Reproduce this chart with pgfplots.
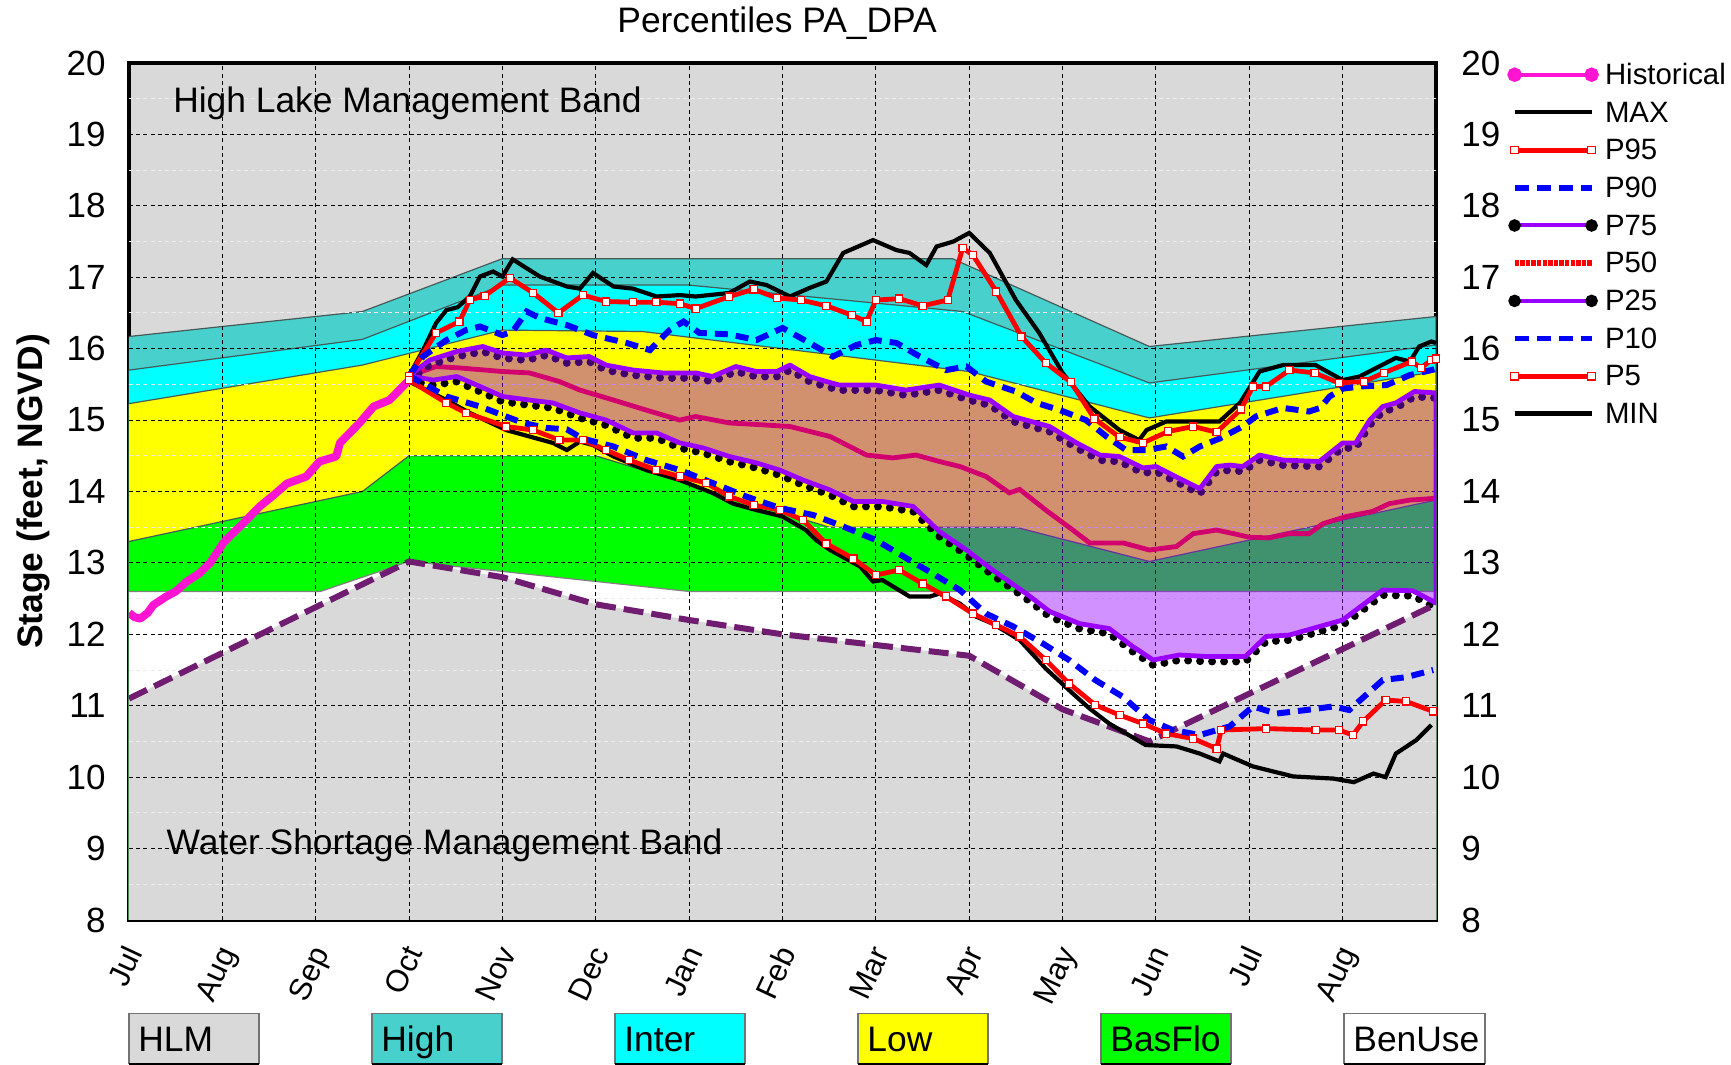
\documentclass[border=0pt]{standalone}
\usepackage{fontspec}
\setmainfont{Liberation Sans}
\usepackage{pgfplots}
\usepackage{pgfplotstable}
\pgfplotsset{compat=1.18}

\definecolor{hlm}{RGB}{217,217,217}
\definecolor{highc}{RGB}{72,209,204}
\definecolor{interc}{RGB}{0,255,255}
\definecolor{lowc}{RGB}{255,255,0}
\definecolor{basc}{RGB}{0,255,0}
\definecolor{vio}{RGB}{153,0,255}
\definecolor{fillv}{RGB}{150,0,255}
\definecolor{histc}{RGB}{255,20,210}
\definecolor{wsl}{RGB}{112,28,112}
\definecolor{bandline}{RGB}{70,90,90}
\definecolor{pblue}{RGB}{0,0,255}
\definecolor{mgrid}{RGB}{236,236,236}

% ---------- zone boundaries (closed down to the axis floor at 8) ----------
\pgfplotstableread{
x y
0 16.17
2.5 16.52
4.0 17.26
8.82 17.26
10.93 16.03
14 16.45
14 8
0 8
}\bHigh
\pgfplotstableread{
x y
0 15.70
2.5 16.13
4.0 16.89
6.0 16.89
8.93 16.52
10.93 15.52
14 16.05
14 8
0 8
}\bInter
\pgfplotstableread{
x y
0 15.23
2.5 15.77
4.0 16.26
5.5 16.24
9.0 15.68
10.93 15.03
14 15.68
14 8
0 8
}\bLow
\pgfplotstableread{
x y
0 13.30
2.5 14.00
3.0 14.50
5.0 14.50
7.5 13.50
9.5 13.50
10.93 13.02
14 13.88
14 8
0 8
}\bBas
\pgfplotstableread{
x y
0 12.60
2.05 12.60
3.0 13.02
6.0 12.60
14 12.60
14 8
0 8
}\bBen
\pgfplotstableread{
x y
0 11.10
3.0 13.02
4.0 12.80
5.0 12.42
6.0 12.20
7.0 12.00
8.0 11.85
9.0 11.70
10.0 10.95
10.93 10.50
14 12.42
14 8
0 8
}\bWSfill
\pgfplotstableread{
x y
0 11.10
3.0 13.02
4.0 12.80
5.0 12.42
6.0 12.20
7.0 12.00
8.0 11.85
9.0 11.70
10.0 10.95
10.93 10.50
14 12.42
}\bWS

% ---------- grid drawn above the zones ----------
\pgfplotstableread{
x y
0 9
14 9
nan nan
0 10
14 10
nan nan
0 11
14 11
nan nan
0 12
14 12
nan nan
0 13
14 13
nan nan
0 14
14 14
nan nan
0 15
14 15
nan nan
0 16
14 16
nan nan
0 17
14 17
nan nan
0 18
14 18
nan nan
0 19
14 19
}\gH
\pgfplotstableread{
x y
0 8.5
14 8.5
nan nan
0 9.5
14 9.5
nan nan
0 10.5
14 10.5
nan nan
0 11.5
14 11.5
nan nan
0 12.5
14 12.5
nan nan
0 13.5
14 13.5
nan nan
0 14.5
14 14.5
nan nan
0 15.5
14 15.5
nan nan
0 16.5
14 16.5
nan nan
0 17.5
14 17.5
nan nan
0 18.5
14 18.5
nan nan
0 19.5
14 19.5
}\gM
\pgfplotstableread{
x y
1 8
1 20
nan nan
2 8
2 20
nan nan
3 8
3 20
nan nan
4 8
4 20
nan nan
5 8
5 20
nan nan
6 8
6 20
nan nan
7 8
7 20
nan nan
8 8
8 20
nan nan
9 8
9 20
nan nan
10 8
10 20
nan nan
11 8
11 20
nan nan
12 8
12 20
nan nan
13 8
13 20
}\gV

% ---------- percentile series ----------
\pgfplotstableread{
x y
3.0 15.62
3.15 15.98
3.29 16.36
3.40 16.54
3.52 16.58
3.65 16.73
3.76 17.01
3.90 17.08
4.00 17.01
4.11 17.25
4.40 17.01
4.69 16.87
4.83 16.84
4.97 17.06
5.19 16.87
5.40 16.84
5.65 16.73
5.90 16.75
6.07 16.73
6.43 16.78
6.65 16.94
6.83 16.89
7.08 16.73
7.29 16.85
7.47 16.94
7.65 17.34
7.97 17.52
8.22 17.38
8.36 17.34
8.54 17.17
8.65 17.43
8.83 17.50
9.00 17.62
9.22 17.34
9.50 16.68
9.75 16.22
10.00 15.66
10.29 15.19
10.61 14.86
10.82 14.72
10.90 14.86
11.11 14.98
11.68 14.98
11.90 15.24
12.11 15.68
12.36 15.77
12.71 15.77
13.00 15.56
13.18 15.61
13.57 15.87
13.72 15.82
13.82 16.03
13.95 16.10
14.00 16.08
}\tMax
\pgfplotstableread{
x y
3.0 15.62
3.29 16.22
3.54 16.38
3.65 16.68
3.81 16.74
4.08 16.99
4.33 16.78
4.60 16.50
4.86 16.75
5.11 16.66
5.40 16.65
5.65 16.65
5.90 16.63
6.07 16.56
6.43 16.73
6.69 16.83
6.94 16.71
7.20 16.68
7.47 16.60
7.74 16.47
7.90 16.38
8.00 16.68
8.25 16.70
8.50 16.60
8.77 16.68
8.93 17.41
9.04 17.31
9.29 16.80
9.56 16.17
9.82 15.80
10.09 15.53
10.34 15.02
10.61 14.76
10.86 14.68
11.13 14.84
11.40 14.91
11.65 14.83
11.91 15.15
12.04 15.47
12.18 15.47
12.43 15.70
12.70 15.66
12.96 15.52
13.23 15.54
13.44 15.66
13.74 15.82
13.84 15.73
13.95 15.84
14.00 15.86
}\tPninetyfive
\pgfplotstableread{
x y
3.0 15.62
3.15 15.89
3.40 16.12
3.61 16.26
3.76 16.31
4.00 16.19
4.11 16.24
4.26 16.52
4.40 16.43
4.69 16.33
4.97 16.19
5.33 16.08
5.58 15.98
5.79 16.26
5.94 16.38
6.11 16.22
6.43 16.20
6.72 16.12
7.00 16.29
7.29 16.08
7.54 15.89
7.79 16.05
8.00 16.12
8.22 16.08
8.47 15.89
8.75 15.70
8.97 15.75
9.18 15.54
9.50 15.40
9.72 15.24
9.97 15.14
10.25 15.00
10.47 14.77
10.68 14.58
10.90 14.58
11.11 14.63
11.29 14.49
11.47 14.63
11.68 14.74
11.93 14.91
12.07 15.05
12.36 15.17
12.64 15.12
12.76 15.17
12.86 15.33
13.00 15.44
13.18 15.47
13.47 15.49
13.72 15.63
13.95 15.70
14.00 15.72
}\tPninety
\pgfplotstableread{
x y
3.0 15.62
3.22 15.84
3.51 15.96
3.79 16.03
4.00 15.94
4.26 15.91
4.47 15.98
4.69 15.87
4.93 15.89
5.11 15.77
5.40 15.70
5.72 15.66
6.07 15.66
6.25 15.61
6.50 15.75
6.72 15.68
6.94 15.68
7.08 15.77
7.29 15.61
7.47 15.54
7.61 15.49
8.00 15.49
8.32 15.42
8.68 15.49
9.00 15.35
9.22 15.28
9.47 15.05
9.86 14.91
10.15 14.68
10.40 14.51
10.61 14.49
10.86 14.33
11.00 14.35
11.18 14.23
11.47 14.04
11.65 14.35
11.79 14.37
11.93 14.35
12.11 14.51
12.36 14.44
12.75 14.42
13.00 14.68
13.14 14.68
13.29 15.00
13.43 15.19
13.57 15.24
13.77 15.40
14.00 15.38
}\tPseventyfive
\pgfplotstableread{
x y
3.0 15.62
3.29 15.75
3.54 15.73
4.00 15.68
4.29 15.66
4.61 15.54
4.83 15.42
5.19 15.28
5.54 15.14
5.90 15.00
6.07 15.05
6.43 14.96
6.70 14.94
7.08 14.91
7.51 14.77
7.90 14.51
8.18 14.47
8.43 14.51
8.68 14.42
8.90 14.35
9.18 14.21
9.43 13.98
9.54 14.03
9.82 13.74
10.11 13.46
10.29 13.28
10.65 13.28
10.93 13.18
11.22 13.23
11.40 13.41
11.65 13.46
11.83 13.41
12.00 13.36
12.21 13.35
12.43 13.41
12.64 13.41
12.79 13.55
13.04 13.65
13.32 13.72
13.50 13.83
13.72 13.88
13.95 13.90
14.00 13.91
}\tPfifty
\pgfplotstableread{
x y
3.0 15.62
3.26 15.56
3.51 15.61
3.76 15.47
4.00 15.33
4.29 15.28
4.54 15.24
4.83 15.10
5.11 15.00
5.40 14.82
5.65 14.82
5.90 14.68
6.15 14.61
6.43 14.49
6.72 14.40
6.97 14.30
7.22 14.16
7.51 14.02
7.76 13.86
8.07 13.86
8.40 13.79
8.68 13.44
8.97 13.18
9.25 12.90
9.61 12.57
9.86 12.32
10.18 12.15
10.50 12.08
10.75 11.83
10.97 11.64
11.25 11.71
11.54 11.69
11.96 11.69
12.18 11.97
12.43 11.99
13.00 12.20
13.43 12.62
13.75 12.61
14.00 12.44
}\tPtwentyfive
% region between P75 (forward) and P25 (backward)
\pgfplotstableread{
x y
3.0 15.62
3.22 15.84
3.51 15.96
3.79 16.03
4.00 15.94
4.26 15.91
4.47 15.98
4.69 15.87
4.93 15.89
5.11 15.77
5.40 15.70
5.72 15.66
6.07 15.66
6.25 15.61
6.50 15.75
6.72 15.68
6.94 15.68
7.08 15.77
7.29 15.61
7.47 15.54
7.61 15.49
8.00 15.49
8.32 15.42
8.68 15.49
9.00 15.35
9.22 15.28
9.47 15.05
9.86 14.91
10.15 14.68
10.40 14.51
10.61 14.49
10.86 14.33
11.00 14.35
11.18 14.23
11.47 14.04
11.65 14.35
11.79 14.37
11.93 14.35
12.11 14.51
12.36 14.44
12.75 14.42
13.00 14.68
13.14 14.68
13.29 15.00
13.43 15.19
13.57 15.24
13.77 15.40
14.00 15.38
14.00 12.44
13.75 12.61
13.43 12.62
13.00 12.20
12.43 11.99
12.18 11.97
11.96 11.69
11.54 11.69
11.25 11.71
10.97 11.64
10.75 11.83
10.50 12.08
10.18 12.15
9.86 12.32
9.61 12.57
9.25 12.90
8.97 13.18
8.68 13.44
8.40 13.79
8.07 13.86
7.76 13.86
7.51 14.02
7.22 14.16
6.97 14.30
6.72 14.40
6.43 14.49
6.15 14.61
5.90 14.68
5.65 14.82
5.40 14.82
5.11 15.00
4.83 15.10
4.54 15.24
4.29 15.28
4.00 15.33
3.76 15.47
3.51 15.61
3.26 15.56
3.0 15.62
}\tBand
\pgfplotstableread{
x y
3.0 15.62
3.40 15.33
3.76 15.19
4.04 15.05
4.22 14.96
4.47 14.89
4.69 14.87
4.86 14.74
5.19 14.63
5.54 14.44
5.90 14.30
6.25 14.12
6.61 13.93
6.97 13.77
7.33 13.67
7.65 13.51
8.00 13.32
8.36 13.04
8.61 12.85
8.90 12.62
9.18 12.29
9.47 12.11
9.79 11.87
10.07 11.64
10.35 11.36
10.64 11.13
10.93 10.80
11.18 10.66
11.47 10.59
11.79 10.71
12.04 10.99
12.29 10.89
12.61 10.94
12.90 10.99
13.07 10.94
13.43 11.36
13.68 11.40
13.97 11.50
}\tPten
\pgfplotstableread{
x y
3.0 15.56
3.40 15.24
3.61 15.10
4.04 14.91
4.33 14.86
4.61 14.72
4.86 14.72
5.11 14.58
5.36 14.44
5.65 14.30
5.90 14.21
6.18 14.12
6.43 13.93
6.69 13.81
6.97 13.74
7.22 13.60
7.47 13.27
7.76 13.06
8.00 12.83
8.25 12.90
8.50 12.71
8.75 12.53
9.04 12.29
9.29 12.13
9.54 11.97
9.82 11.64
10.07 11.31
10.35 11.01
10.61 10.87
10.86 10.75
11.11 10.61
11.40 10.54
11.65 10.40
11.70 10.66
12.18 10.68
12.71 10.66
12.96 10.66
13.11 10.59
13.22 10.78
13.46 11.08
13.68 11.06
13.97 10.92
}\tPfive
\pgfplotstableread{
x y
3.0 15.54
3.40 15.28
3.65 15.10
4.04 14.86
4.29 14.77
4.54 14.68
4.69 14.58
4.83 14.70
4.97 14.65
5.19 14.49
5.54 14.30
5.90 14.16
6.25 13.98
6.47 13.83
6.72 13.74
7.00 13.65
7.25 13.46
7.36 13.32
7.51 13.18
7.83 12.95
7.97 12.74
8.07 12.76
8.36 12.53
8.58 12.53
8.68 12.57
8.90 12.43
9.07 12.25
9.25 12.15
9.54 11.92
9.82 11.52
10.11 11.17
10.29 10.96
10.50 10.75
10.89 10.45
11.22 10.43
11.47 10.33
11.68 10.22
11.72 10.33
12.04 10.15
12.47 10.01
12.90 9.98
13.12 9.93
13.33 10.05
13.46 10.00
13.57 10.33
13.79 10.52
13.95 10.73
}\tMin
\pgfplotstableread{
x y
0.00 12.30
0.06 12.24
0.12 12.22
0.20 12.30
0.26 12.41
0.40 12.53
0.50 12.60
0.62 12.74
0.75 12.85
0.87 13.00
1.01 13.28
1.10 13.40
1.22 13.55
1.40 13.79
1.55 13.95
1.69 14.11
1.90 14.21
2.04 14.42
2.22 14.49
2.26 14.68
2.47 14.96
2.62 15.19
2.79 15.28
3.00 15.56
}\tHist

\begin{document}
\begin{tikzpicture}
\path[use as bounding box] (0,0) rectangle (865.5pt,532.5pt);
\begin{axis}[
  at={(64.5pt,72.5pt)}, anchor=south west,
  scale only axis, width=653.5pt, height=428.5pt,
  xmin=0, xmax=14, ymin=8, ymax=20,
  xtick={0,...,13},
  xticklabels={Jul,Aug,Sep,Oct,Nov,Dec,Jan,Feb,Mar,Apr,May,Jun,Jul,Aug},
  ytick={8,...,20},
  major tick length=0pt,
  axis background/.style={fill=hlm},
  axis line style={black, line width=2.2pt},
  unbounded coords=jump,
  /pgf/number format/assume math mode=true,
  tick label style={font=\fontsize{17.5}{20}\selectfont},
  yticklabel style={inner sep=0pt, anchor=east, xshift=-11.5pt},
  xticklabel style={inner sep=0pt, rotate=65, anchor=base east, font=\fontsize{15.5}{18}\selectfont, xshift=-11.8pt, yshift=-13.4pt},
  ylabel={\bfseries Stage (feet, NGVD)},
  ylabel style={at={(axis description cs:0,0.5)}, anchor=center, yshift=48pt, font=\fontsize{17.7}{20}\selectfont},
  title={Percentiles PA\_DPA},
  title style={at={(axis description cs:0.5,1)}, anchor=base, xshift=-2.7pt, yshift=9.2pt, font=\fontsize{17.7}{20}\selectfont},
  legend style={at={(rel axis cs:1,1)}, anchor=north west, xshift=36.5pt, yshift=0pt,
    draw=none, fill=none, inner sep=0pt, font=\fontsize{14.7}{16}\selectfont,
    row sep=5.35pt, column sep=4.1pt,
    nodes={inner sep=0pt, text height=10.5pt, text depth=3pt}},
  legend cell align=left,
  legend image code/.code={\draw[mark repeat=2, mark phase=1, #1] plot coordinates {(0pt,1.1pt) (19.25pt,1.1pt) (38.5pt,1.1pt)};},
]
% ---------- legend ----------
\addlegendimage{histc, line width=2pt, mark=*, mark size=2.6pt, mark options={solid, fill=histc, draw=histc}}
\addlegendentry{Historical}
\addlegendimage{black, line width=2pt}
\addlegendentry{MAX}
\addlegendimage{red, line width=2.5pt, mark=square*, mark size=1.9pt, mark options={solid, fill=white, draw=red, line width=0.6pt}}
\addlegendentry{P95}
\addlegendimage{pblue, line width=2.8pt, dash pattern=on 7pt off 4pt}
\addlegendentry{P90}
\addlegendimage{vio, line width=2pt, mark=*, mark size=2.1pt, mark options={solid, fill=black, draw=black}}
\addlegendentry{P75}
\addlegendimage{red, line width=3pt, dash pattern=on 2.2pt off 0.6pt}
\addlegendentry{P50}
\addlegendimage{vio, line width=2pt, mark=*, mark size=2.1pt, mark options={solid, fill=black, draw=black}}
\addlegendentry{P25}
\addlegendimage{pblue, line width=2.8pt, dash pattern=on 7pt off 4pt}
\addlegendentry{P10}
\addlegendimage{red, line width=2.5pt, mark=square*, mark size=1.9pt, mark options={solid, fill=white, draw=red, line width=0.6pt}}
\addlegendentry{P5}
\addlegendimage{black, line width=2.5pt}
\addlegendentry{MIN}

% ---------- zones ----------
\addplot[forget plot, fill=highc, draw=bandline, line width=0.6pt] table {\bHigh};
\addplot[forget plot, fill=interc, draw=bandline, line width=0.6pt] table {\bInter};
\addplot[forget plot, fill=lowc, draw=bandline, line width=0.6pt] table {\bLow};
\addplot[forget plot, fill=basc, draw=bandline, line width=0.6pt] table {\bBas};
\addplot[forget plot, fill=white, draw=gray, line width=0.6pt] table {\bBen};
\addplot[forget plot, fill=hlm, draw=none] table {\bWSfill};

% ---------- grid over the zones ----------
\addplot[forget plot, mgrid, line width=0.5pt, dash pattern=on 2pt off 1.6pt] table {\gM};
\addplot[forget plot, black, line width=0.5pt, dash pattern=on 2pt off 1.6pt] table {\gH};
\addplot[forget plot, black, line width=0.5pt, dash pattern=on 2pt off 1.6pt] table {\gV};

\node[anchor=west, inner sep=0pt, font=\fontsize{17.7}{20}\selectfont] at (axis cs:0.47,19.43) {High Lake Management Band};
\node[anchor=west, inner sep=0pt, font=\fontsize{17.7}{20}\selectfont] at (axis cs:0.40,9.04) {Water Shortage Management Band};

% ---------- median and percentile band ----------
\addplot[forget plot, red, line width=2.4pt] table {\tPfifty};
\addplot[forget plot, black, line width=4pt, dash pattern=on 0pt off 6pt, line cap=round] table[x=x, y expr=\thisrow{y}-0.07] {\tPseventyfive};
\addplot[forget plot, black, line width=4pt, dash pattern=on 0pt off 6pt, line cap=round] table[x=x, y expr=\thisrow{y}-0.07] {\tPtwentyfive};
\addplot[forget plot, fill=fillv, fill opacity=0.43, draw=vio, line width=2.4pt, line join=round] table {\tBand};

% ---------- water shortage line ----------
\addplot[forget plot, wsl, line width=3pt, dash pattern=on 10pt off 4pt] table {\bWS};

% ---------- extremes and percentiles ----------
\addplot[forget plot, black, line width=2.1pt] table {\tMax};
\addplot[forget plot, black, line width=2.1pt] table {\tMin};
\addplot[forget plot, red, line width=2.4pt, mark=square*, mark size=1.8pt, mark options={solid, fill=white, draw=red, line width=0.6pt}] table {\tPninetyfive};
\addplot[forget plot, red, line width=2.4pt, mark=square*, mark size=1.8pt, mark options={solid, fill=white, draw=red, line width=0.6pt}] table {\tPfive};
\addplot[forget plot, pblue, line width=3pt, dash pattern=on 6.5pt off 4pt] table {\tPninety};
\addplot[forget plot, pblue, line width=3pt, dash pattern=on 6.5pt off 4pt] table {\tPten};
\addplot[forget plot, histc, line width=4pt, line join=round] table {\tHist};
\end{axis}

\begin{axis}[
  at={(64.5pt,72.5pt)}, anchor=south west,
  scale only axis, width=653.5pt, height=428.5pt,
  xmin=0, xmax=14, ymin=8, ymax=20,
  hide x axis, axis y line*=right, axis line style={draw=none},
  ytick={8,...,20}, major tick length=0pt,
  /pgf/number format/assume math mode=true,
  yticklabel style={inner sep=0pt, anchor=west, xshift=12.5pt, font=\fontsize{17.5}{20}\selectfont},
]
\addplot[draw=none, forget plot] coordinates {(0,8) (14,20)};
\end{axis}

% ---------- zone key boxes ----------
\begin{scope}[font=\fontsize{17.7}{20}\selectfont]
\foreach \xl/\w/\c/\t in {64.5/65/hlm/HLM, 186/65/highc/High, 307.5/65/interc/Inter, 429/65/lowc/Low, 550.5/65/basc/BasFlo, 672/70.5/white/BenUse}{
  \draw[fill=\c, draw=black!55, line width=0.7pt] (\xl pt,0.6pt) rectangle ++(\w pt,25.2pt);
  \draw[black, line width=1.2pt] (\xl pt,0.6pt) -- ++(\w pt,0pt);
  \node[anchor=base west, inner sep=0pt] at (\xl pt+4.5pt, 6.9pt) {\t};
}
\end{scope}
\end{tikzpicture}
\end{document}
